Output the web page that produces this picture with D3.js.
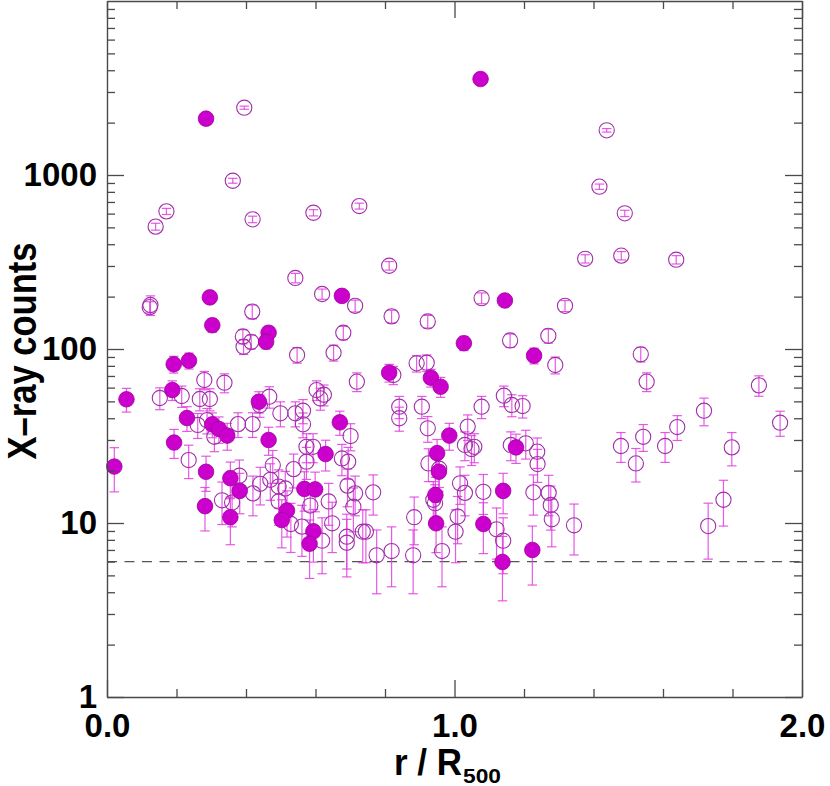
<!DOCTYPE html>
<html>
<head>
<meta charset="utf-8">
<script src="https://cdn.jsdelivr.net/npm/d3@7"></script>
<style>
  body { margin: 0; background: #fff; }
  svg { display: block; }
</style>
</head>
<body>
<svg class="chart" width="830" height="786"></svg>
<script>
// filled markers: r / R500, counts, symmetric error
const filledR = [0.285, 1.075, 0.676, 0.296, 1.145, 0.303, 0.465, 0.458, 1.027, 1.229,
    0.192, 0.236, 0.812, 0.932, 0.960, 0.188, 0.056, 0.437, 0.230, 0.670,
    0.303, 0.322, 0.346, 0.465, 0.193, 0.985, 0.950, 0.629, 1.177, 0.021,
    0.285, 0.955, 0.355, 0.382, 0.568, 0.599, 0.945, 1.140, 0.282, 0.518,
    0.355, 0.503, 0.947, 1.083, 0.594, 0.583, 1.224, 1.138];
const filledCounts = [2108, 3562, 202, 198, 190, 137, 124, 110, 108, 91.6,
    81.7, 85.7, 73.1, 68.4, 60.7, 58.1, 51.4, 49.8, 40.1, 37.9,
    36.9, 34.7, 31.8, 30.0, 29.0, 31.8, 25.2, 24.9, 27.2, 21.1,
    19.7, 19.7, 18.1, 15.3, 15.7, 15.6, 14.5, 15.3, 12.5, 11.8,
    10.8, 10.4, 9.96, 9.87, 8.96, 7.6, 7.0, 5.97];
const filledErr = [46, 60, 14, 14, 14, 12, 11, 10, 10, 9.5,
    9, 9, 8.5, 8, 8, 7.5, 8, 7, 6.5, 6,
    6, 6, 5.6, 5.5, 5.5, 5.6, 5, 5, 5.2, 6,
    4.5, 4.5, 4.3, 4, 4, 4, 3.8, 4, 3.5, 3.5,
    3.3, 3.2, 3.2, 3.2, 3, 2.8, 2.6, 2.4];

// open markers
const openR = [0.395, 0.362, 0.171, 0.140, 0.419, 0.594, 0.726, 1.438, 1.417, 1.490,
    1.376, 1.480, 1.638, 0.542, 0.812, 0.619, 0.125, 0.123, 0.714, 0.418,
    0.819, 0.923, 1.078, 1.318, 0.680, 0.391, 0.415, 0.393, 1.160, 1.270,
    0.547, 0.652, 1.290, 0.824, 0.719, 0.891, 0.920, 0.280, 0.338, 0.152,
    0.215, 0.267, 0.296, 0.467, 0.603, 0.624, 0.614, 0.499, 0.542, 0.564,
    0.564, 0.261, 0.288, 0.309, 0.377, 0.419, 0.235, 0.381, 0.331, 0.360,
    0.420, 0.441, 0.477, 0.470, 0.494, 0.513, 0.494, 0.537, 0.574, 0.574,
    0.593, 0.676, 0.585, 0.638, 0.529, 0.561, 0.619, 0.648, 0.701, 0.694,
    0.692, 0.714, 0.709, 0.766, 0.690, 0.690, 0.736, 0.745, 0.776, 0.819,
    0.881, 0.884, 0.841, 0.841, 0.906, 0.923, 1.078, 1.142, 1.165, 1.196,
    0.925, 0.956, 0.939, 0.944, 0.964, 1.038, 1.030, 1.057, 1.049, 1.016,
    1.030, 1.009, 1.003, 1.083, 1.121, 1.140, 1.162, 1.205, 1.238, 1.239,
    1.227, 1.271, 1.277, 1.280, 1.344, 1.536, 1.553, 1.479, 1.522, 1.543,
    1.606, 1.641, 1.718, 1.798, 1.876, 1.937, 1.730, 1.774, 0.440];
const openCounts = [2437, 927, 618, 505, 556, 607, 663, 1806, 857, 602,
    330, 344, 326, 256, 301, 207, 179, 174, 177, 164,
    154, 144, 196, 177, 124, 118, 110, 103, 112, 119,
    92.4, 95.2, 80.9, 70.9, 64.9, 82.7, 83.4, 66.3, 64.0, 52.3,
    53.7, 51.6, 51.6, 53.2, 58.1, 54.6, 52.0, 42.7, 42.7, 44.2,
    36.9, 36.6, 39.0, 31.3, 37.0, 37.0, 23.0, 18.7, 13.5, 13.1,
    14.8, 16.8, 21.5, 17.7, 16.2, 15.8, 13.3, 20.4, 22.5, 27.4,
    27.4, 23.5, 12.6, 13.3, 9.87, 9.53, 7.91, 9.96, 31.6, 22.5,
    16.4, 14.8, 12.4, 15.0, 8.34, 7.7, 8.91, 8.91, 6.52, 6.9,
    6.52, 10.8, 46.6, 40.0, 46.6, 35.0, 46.6, 53.9, 47.7, 47.0,
    22.0, 20.5, 13.6, 13.0, 6.9, 35.8, 28.1, 27.4, 26.6, 16.9,
    14.9, 10.9, 8.91, 15.1, 9.2, 7.91, 28.1, 28.7, 25.7, 21.8,
    15.0, 14.9, 12.7, 10.5, 9.7, 93.2, 64.9, 27.7, 22.0, 31.3,
    27.7, 35.6, 44.2, 27.2, 61.8, 37.7, 9.6, 13.6, 47.5];
const openErr = [50, 30, 25, 23, 24, 25, 26, 42, 30, 25,
    18, 19, 18, 16, 17, 14, 23, 13, 14, 15,
    13, 12, 14, 13, 11, 11, 10, 10, 10, 11,
    9.5, 10, 9, 8.5, 8, 9, 9, 8, 8, 7.5,
    7.5, 7.5, 7.5, 7.5, 7.5, 7.5, 7.5, 7, 7, 7,
    6, 6, 6.5, 5.6, 6, 6, 5, 4.3, 3.7, 3.6,
    3.8, 4.1, 4.6, 4.2, 4, 4, 3.6, 4.5, 4.7, 5.2,
    5.2, 4.8, 3.5, 3.6, 3.1, 3.1, 2.8, 3.2, 5.6, 4.7,
    4, 3.8, 3.5, 3.9, 2.9, 2.8, 3, 3, 2.6, 2.6,
    2.6, 3.3, 6.8, 6.3, 6.8, 5.9, 6.8, 7.3, 6.9, 6.9,
    4.7, 4.5, 3.7, 3.6, 2.6, 6, 5.3, 5.2, 5.2, 4.1,
    3.9, 3.3, 3, 3.9, 3, 2.8, 5.3, 5.4, 5.1, 4.7,
    3.9, 3.9, 3.6, 3.2, 3.15, 9, 8, 5.4, 4.8, 5.5,
    5.4, 5.8, 8, 5.9, 8.3, 6.2, 3.4, 4, 7];

const yMajorTicks = [1, 10, 100, 1000];
const yMinorTicks = [2, 3, 4, 5, 6, 7, 8, 9, 20, 30, 40, 50, 60, 70, 80, 90,
    200, 300, 400, 500, 600, 700, 800, 900, 2000, 3000, 4000, 5000, 6000, 7000, 8000, 9000];
const xMajorTicks = [0, 1, 2];
const xMinorTicks = [0.2, 0.4, 0.6, 0.8, 1.2, 1.4, 1.6, 1.8];
const thresholdCounts = 6;

const fontFamily = '"Liberation Sans", Arial, Helvetica, sans-serif';
const axisColor = '#4a4a4a';

const svg = d3.select('.chart');
svg.append('rect').attr('width', 830).attr('height', 786).attr('fill', '#fff');

const xs = d3.scaleLinear().domain([0, 2]).range([107, 802]);
const ys = d3.scaleLog().domain([1, 10000]).range([697, 1]);

const zip = (rs, cs, es) => rs.map((r, i) => ({ r: r, c: cs[i], e: es[i] }));
const filled = zip(filledR, filledCounts, filledErr);
const open = zip(openR, openCounts, openErr);

// threshold line
svg.append('line')
    .attr('x1', xs(0)).attr('x2', xs(2))
    .attr('y1', ys(thresholdCounts)).attr('y2', ys(thresholdCounts))
    .attr('stroke', '#555').attr('stroke-width', 1.1)
    .attr('stroke-dasharray', '10,7.5');

// error bars
const drawErrors = (data) => {
    const g = svg.append('g')
        .attr('stroke', '#e03ce0').attr('stroke-width', 1.2).attr('stroke-opacity', 0.85);
    data.forEach(d => {
        const x = xs(d.r);
        const y1 = ys(d.c + d.e);
        const y2 = ys(Math.max(d.c - d.e, 1.01));
        g.append('line').attr('x1', x).attr('x2', x).attr('y1', y1).attr('y2', y2);
        g.append('line').attr('x1', x - 4.7).attr('x2', x + 4.7).attr('y1', y1).attr('y2', y1);
        g.append('line').attr('x1', x - 4.7).attr('x2', x + 4.7).attr('y1', y2).attr('y2', y2);
    });
};
drawErrors(open);
drawErrors(filled);

svg.append('g')
    .selectAll('circle')
    .data(open)
    .enter()
    .append('circle')
    .attr('cx', d => xs(d.r))
    .attr('cy', d => ys(d.c))
    .attr('r', 7.6)
    .attr('fill', 'none')
    .attr('stroke', '#a030a8')
    .attr('stroke-width', 1.1);

svg.append('g')
    .selectAll('circle')
    .data(filled)
    .enter()
    .append('circle')
    .attr('cx', d => xs(d.r))
    .attr('cy', d => ys(d.c))
    .attr('r', 7.8)
    .attr('fill', '#cc00cc')
    .attr('stroke', '#a000a0')
    .attr('stroke-width', 0.8);

// axes, ticks pointing inward
const styleAxis = (g, keepDomain) => {
    g.selectAll('line').attr('stroke', axisColor).attr('stroke-width', 1.3);
    g.select('.domain').attr('stroke', axisColor).attr('stroke-width', 1.4);
    if (!keepDomain) g.select('.domain').remove();
    g.selectAll('text')
        .attr('fill', '#000')
        .attr('font-family', fontFamily)
        .attr('font-weight', 'bold')
        .attr('font-size', 33);
};

svg.append('g').attr('transform', `translate(${xs(0)},0)`)
    .call(d3.axisLeft(ys).tickValues(yMajorTicks).tickSize(-17).tickSizeOuter(0)
        .tickPadding(10).tickFormat(d3.format('d')))
    .call(g => styleAxis(g, true));
svg.append('g').attr('transform', `translate(${xs(0)},0)`)
    .call(d3.axisLeft(ys).tickValues(yMinorTicks).tickSize(-8).tickFormat(''))
    .call(g => styleAxis(g, false));
svg.append('g').attr('transform', `translate(${xs(2)},0)`)
    .call(d3.axisRight(ys).tickValues(yMajorTicks).tickSize(-17).tickSizeOuter(0).tickFormat(''))
    .call(g => styleAxis(g, true));
svg.append('g').attr('transform', `translate(${xs(2)},0)`)
    .call(d3.axisRight(ys).tickValues(yMinorTicks).tickSize(-8).tickFormat(''))
    .call(g => styleAxis(g, false));

svg.append('g').attr('transform', `translate(0,${ys(1)})`)
    .call(d3.axisBottom(xs).tickValues(xMajorTicks).tickSize(-17).tickSizeOuter(0)
        .tickPadding(16.5).tickFormat(d3.format('.1f')))
    .call(g => styleAxis(g, true));
svg.append('g').attr('transform', `translate(0,${ys(1)})`)
    .call(d3.axisBottom(xs).tickValues(xMinorTicks).tickSize(-8).tickFormat(''))
    .call(g => styleAxis(g, false));
svg.append('g').attr('transform', `translate(0,${ys(10000)})`)
    .call(d3.axisTop(xs).tickValues(xMajorTicks).tickSize(-17).tickSizeOuter(0).tickFormat(''))
    .call(g => styleAxis(g, true));
svg.append('g').attr('transform', `translate(0,${ys(10000)})`)
    .call(d3.axisTop(xs).tickValues(xMinorTicks).tickSize(-8).tickFormat(''))
    .call(g => styleAxis(g, false));

// axis titles
svg.append('text')
    .attr('x', 394).attr('y', 775)
    .attr('font-family', fontFamily).attr('font-weight', 'bold').attr('font-size', 37)
    .attr('textLength', 68).attr('lengthAdjust', 'spacingAndGlyphs')
    .text('r / R');
svg.append('text')
    .attr('x', 463).attr('y', 783)
    .attr('font-family', fontFamily).attr('font-weight', 'bold').attr('font-size', 21)
    .attr('textLength', 38).attr('lengthAdjust', 'spacingAndGlyphs')
    .text('500');

svg.append('g')
    .attr('transform', 'translate(36, 351)')
    .append('text')
    .attr('transform', 'rotate(-90)')
    .attr('text-anchor', 'middle')
    .attr('font-family', fontFamily).attr('font-weight', 'bold').attr('font-size', 40)
    .attr('textLength', 217).attr('lengthAdjust', 'spacingAndGlyphs')
    .text('X–ray counts');
</script>
</body>
</html>
